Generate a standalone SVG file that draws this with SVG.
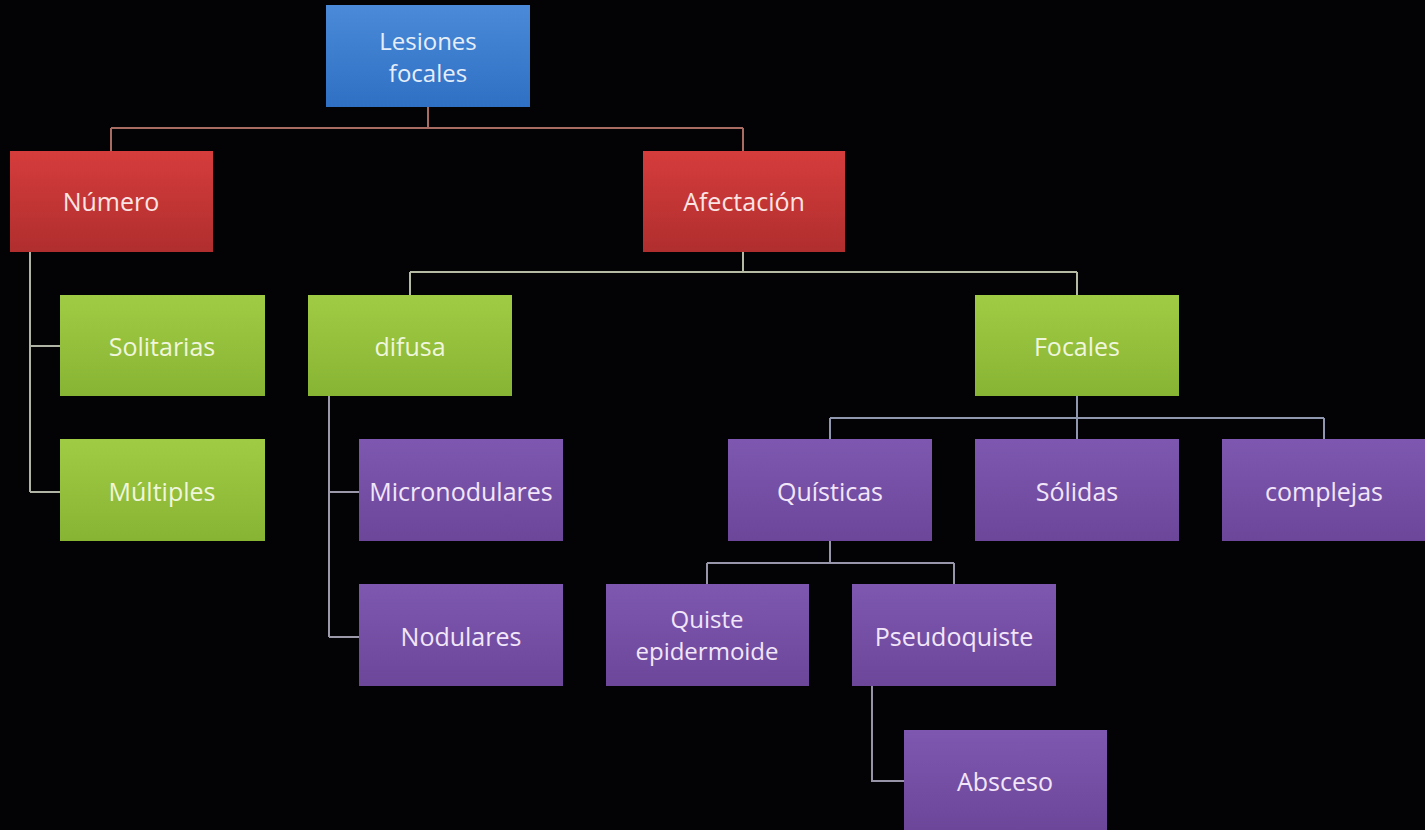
<svg xmlns="http://www.w3.org/2000/svg" width="1425" height="830" viewBox="0 0 1425 830">
<defs>
<linearGradient id="gBlue" x1="0" y1="0" x2="0" y2="1"><stop offset="0" stop-color="#4a8ad8"/><stop offset="1" stop-color="#3070c4"/></linearGradient>
<linearGradient id="gRed" x1="0" y1="0" x2="0" y2="1"><stop offset="0" stop-color="#d63c3c"/><stop offset="1" stop-color="#b02e2e"/></linearGradient>
<linearGradient id="gGreen" x1="0" y1="0" x2="0" y2="1"><stop offset="0" stop-color="#9fcb44"/><stop offset="1" stop-color="#88b434"/></linearGradient>
<linearGradient id="gPurple" x1="0" y1="0" x2="0" y2="1"><stop offset="0" stop-color="#7e58b0"/><stop offset="1" stop-color="#6b4699"/></linearGradient>
</defs>
<style>
text{font-family:"Open Sans","Noto Sans","Liberation Sans",sans-serif;font-size:25px;text-anchor:middle}
text.two{font-size:24px}
.blue rect{fill:url(#gBlue)} .blue text{fill:#e6eefa}
.red rect{fill:url(#gRed)} .red text{fill:#fbe4e4}
.green rect{fill:url(#gGreen)} .green text{fill:#f0f6dc}
.purple rect{fill:url(#gPurple)} .purple text{fill:#f2e6fa}
#connectors path{fill:none;stroke-width:2}
</style>
<rect width="1425" height="830" fill="#030204"/>
<g id="connectors">
<path d="M428 107V128M111 128H743M111 128V151M743 128V151" stroke="#a86c62"/>
<path d="M30 252V492M30 346H60M30 492H60" stroke="#b0b4a4"/>
<path d="M743 252V272M410 272H1077M410 272V295M1077 272V295" stroke="#b4baa4"/>
<path d="M329 396V637M329 492H359M329 637H359" stroke="#9c9aaa"/>
<path d="M1077 396V418M830 418H1324M830 418V439M1324 418V439M1077 418V439" stroke="#9098b0"/>
<path d="M830 541V563M707 563H954M707 563V584M954 563V584" stroke="#9896aa"/>
<path d="M872 686V781H904" stroke="#9894a8"/>
</g>
<g id="n-lesiones" class="blue"><rect x="326" y="5" width="204" height="102"/><text class="two" x="428" y="50">Lesiones</text><text class="two" x="428" y="82">focales</text></g>
<g id="n-numero" class="red"><rect x="10" y="151" width="203" height="101"/><text x="111" y="211">Número</text></g>
<g id="n-afectacion" class="red"><rect x="643" y="151" width="202" height="101"/><text x="744" y="211">Afectación</text></g>
<g id="n-solitarias" class="green"><rect x="60" y="295" width="205" height="101"/><text x="162" y="356">Solitarias</text></g>
<g id="n-multiples" class="green"><rect x="60" y="439" width="205" height="102"/><text x="162" y="501">Múltiples</text></g>
<g id="n-difusa" class="green"><rect x="308" y="295" width="204" height="101"/><text x="410" y="356">difusa</text></g>
<g id="n-focales" class="green"><rect x="975" y="295" width="204" height="101"/><text x="1077" y="356">Focales</text></g>
<g id="n-micronodulares" class="purple"><rect x="359" y="439" width="204" height="102"/><text x="461" y="501">Micronodulares</text></g>
<g id="n-nodulares" class="purple"><rect x="359" y="584" width="204" height="102"/><text x="461" y="646">Nodulares</text></g>
<g id="n-quisticas" class="purple"><rect x="728" y="439" width="204" height="102"/><text x="830" y="501">Quísticas</text></g>
<g id="n-solidas" class="purple"><rect x="975" y="439" width="204" height="102"/><text x="1077" y="501">Sólidas</text></g>
<g id="n-complejas" class="purple"><rect x="1222" y="439" width="203" height="102"/><text x="1324" y="501">complejas</text></g>
<g id="n-quiste" class="purple"><rect x="606" y="584" width="203" height="102"/><text class="two" x="707" y="628">Quiste</text><text class="two" x="707" y="660">epidermoide</text></g>
<g id="n-pseudoquiste" class="purple"><rect x="852" y="584" width="204" height="102"/><text x="954" y="646">Pseudoquiste</text></g>
<g id="n-absceso" class="purple"><rect x="904" y="730" width="203" height="100"/><text x="1005" y="791">Absceso</text></g>
</svg>
